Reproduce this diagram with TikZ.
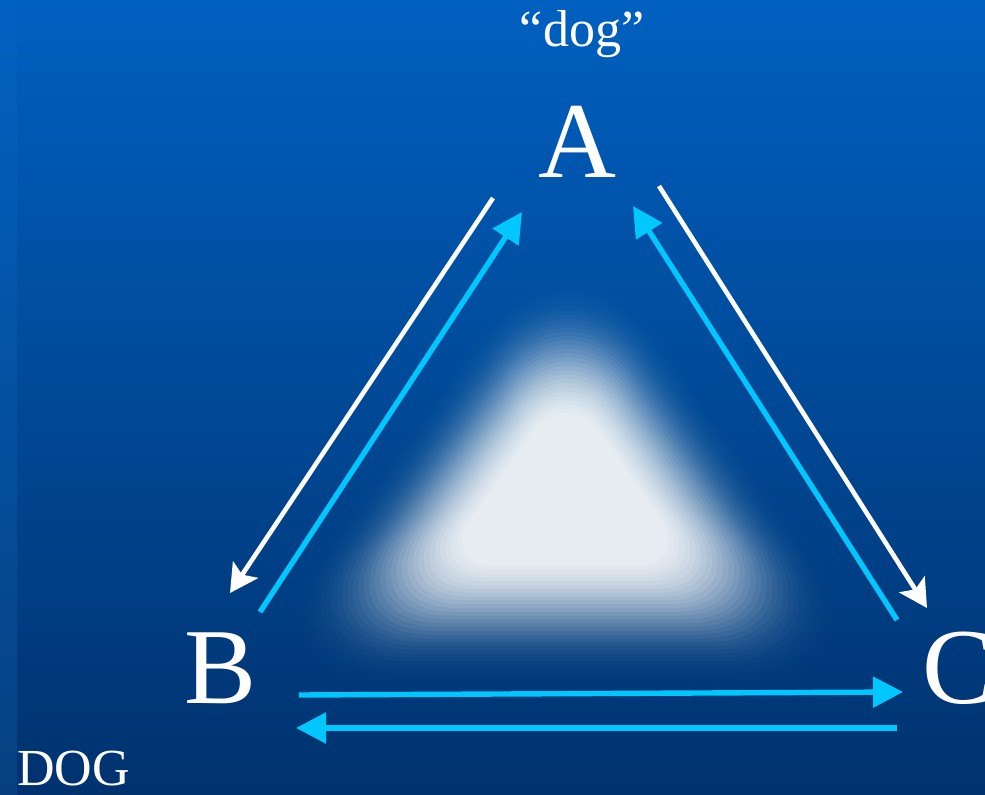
\documentclass[tikz,border=0pt]{standalone}
\usepackage{fontspec}
\setmainfont{Liberation Serif}
\usetikzlibrary{arrows.meta}
\definecolor{bgtop}{RGB}{0,96,192}
\definecolor{bgbot}{RGB}{0,50,110}
\definecolor{striptop}{RGB}{2,98,194}
\definecolor{stripbot}{RGB}{6,64,128}
\definecolor{skyline}{RGB}{0,200,255}

\begin{document}
\begin{tikzpicture}[x=.5pt, y=.5pt,
    letter/.style={text=white, inner sep=0pt, anchor=base, font=\fontsize{54}{60}\selectfont},
    caption/.style={text=white, inner sep=0pt, font=\fontsize{26}{30}\selectfont},
    wline/.style={draw=white, line width=2.3pt, -{Stealth[length=14pt,width=15pt,inset=3pt]}},
    cline/.style={draw=skyline, line width=2.7pt, -{Triangle[length=15pt,width=15pt]}}]
    \useasboundingbox (0,0) rectangle (985,794);
    \shade[top color=bgtop, bottom color=bgbot] (0,0) rectangle (985,794);
    \shade[top color=striptop, bottom color=stripbot] (0,0) rectangle (17,794);
    % glow
    \foreach \s in {1.00,0.98,...,0.37} {
      \pgfmathsetmacro\rc{80*\s}
      \pgfmathsetmacro\op{0.005+0.35*(1-\s)^1.5}
      \begin{scope}[shift={(565,300)}, scale=\s]
        \fill[white, opacity=\op, rounded corners=\rc pt] (5,290) -- (-340,-190) -- (340,-190) -- cycle;
      \end{scope}
    }
    \node[letter] (A) at (577,616) {A};
    \node[letter] (B) at (221,91) {B};
    \node[letter] (C) at (959,91) {C};
    \node[caption, anchor=base] (dog) at (582,747) {“dog”};
    \node[caption, anchor=base west] (DOG) at (17,9) {DOG};
    \draw[wline] ([shift={(-84,-20)}]A.base) -- ([shift={(9,110)}]B.base);
    \draw[cline] ([shift={(39,91)}]B.base) -- ([shift={(-55,-34)}]A.base);
    \draw[wline] ([shift={(82,-8)}]A.base) -- ([shift={(-32,95)}]C.base);
    \draw[cline] ([shift={(-62,83)}]C.base) -- ([shift={(56,-28)}]A.base);
    \draw[cline] ([shift={(78,8)}]B.base) -- ([shift={(-56,11)}]C.base);
    \draw[cline] ([shift={(-62,-25)}]C.base) -- ([shift={(75,-25)}]B.base);
\end{tikzpicture}
\end{document}
